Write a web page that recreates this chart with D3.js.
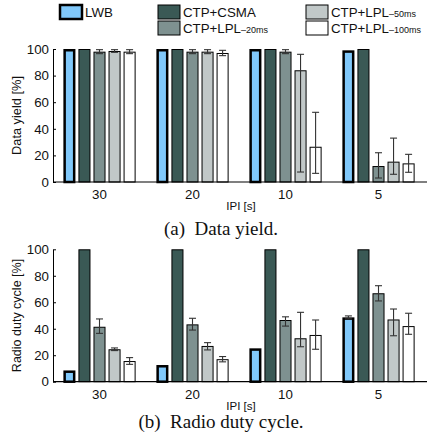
<!DOCTYPE html>
<html><head><meta charset="utf-8">
<script src="https://cdn.jsdelivr.net/npm/d3@7"></script>
<style>body{margin:0;background:#fff}svg{display:block}</style>
</head><body>
<svg id="c" width="427" height="437"></svg>
<script>
const groups = ["30","20","10","5"];
const seriesNames = ["LWB","CTP+CSMA","CTP+LPL-20ms","CTP+LPL-50ms","CTP+LPL-100ms"];
const seriesColors = ["#80c8fa","#3a5955","#7e9190","#c1c8c8","#ffffff"];
const yTicks = [0,20,40,60,80,100];

// Data yield [%]: value, error low, error high (per series, per group)
const yieldVal = [[100,100,100,99],[100,100,100,100],[98,98,98,12],[98.5,98,84,15.3],[98,97,26.5,14]];
const yieldLo  = [[null,null,null,null],[null,null,null,null],[96.5,96.5,96.5,3],[97.5,96.5,7.5,5.8],[96.5,95,6.5,7.3]];
const yieldHi  = [[null,null,null,null],[null,null,null,null],[99.5,99.5,99.5,22],[99.5,99.5,96,33],[99.5,99,52.4,20.8]];

// Radio duty cycle [%]
const dutyVal = [[8.5,12.6,25.2,48.6],[100,100,100,100],[41.5,43.3,46.6,66.8],[24.5,27,32.8,47],[15.6,17,35.3,42]];
const dutyLo  = [[null,null,null,47.5],[null,null,null,null],[36.5,39,42,61],[23.5,24,26.4,34.7],[13.1,15,24.5,35.8]];
const dutyHi  = [[null,null,null,49.7],[null,null,null,null],[47.4,47.9,49,72.5],[25.5,29.5,52.4,54.9],[18.2,19,46.6,51.7]];

const svg = d3.select("#c");
const sans = "Liberation Sans, Arial, sans-serif";

// Legend
const legendPos = [[60,5],[158,5],[306,5],[158,21],[306,21]];
const legendLabels = [["LWB",""],["CTP+CSMA",""],["CTP+LPL","–50ms"],["CTP+LPL","–20ms"],["CTP+LPL","–100ms"]];
const legendIdx = [0,1,3,2,4];
legendIdx.forEach((si,k)=>{
  const [lx,ly] = legendPos[k];
  svg.append("rect").attr("x",lx).attr("y",ly).attr("width",22).attr("height",14)
    .attr("fill",seriesColors[si]).attr("stroke","#000").attr("stroke-width",si===0?2.5:1);
  const t = svg.append("text").attr("x",lx+25).attr("y",ly+12).attr("font-family",sans).attr("font-size",13.3).attr("fill","#111");
  t.append("tspan").text(legendLabels[k][0]);
  if(legendLabels[k][1]) t.append("tspan").attr("font-size",9).text(legendLabels[k][1]);
});

function panel(top, bottom, vals, lo, hi, ylabel, ylabelSize, caption, capY) {
  const x0 = d3.scaleBand().domain(groups).range([53,425]).padding(0);
  const x1 = d3.scaleBand().domain(d3.range(5)).range([0,x0.step()]).paddingInner(0.2).paddingOuter(0.69);
  const y = d3.scaleLinear().domain([0,100]).range([bottom, top]);
  const g = svg.append("g");
  // bars
  vals.forEach((arr,si)=>{
    arr.forEach((v,gi)=>{
      const bx = x0(groups[gi]) + x1(si);
      const thick = si===0;
      const inset = thick?1.25:0.5;
      g.append("rect").attr("x",bx+inset).attr("y",y(v)+inset)
        .attr("width",x1.bandwidth()-2*inset).attr("height",Math.max(0,y(0)-y(v)-inset))
        .attr("fill",seriesColors[si]).attr("stroke","#000").attr("stroke-width",thick?2.5:1);
      if(lo[si][gi]!==null){
        const cx = bx + x1.bandwidth()/2;
        const eg = g.append("g").attr("stroke","#333").attr("stroke-width",1.1);
        eg.append("line").attr("x1",cx).attr("x2",cx).attr("y1",y(lo[si][gi])).attr("y2",y(hi[si][gi]));
        [lo[si][gi],hi[si][gi]].forEach(e=>eg.append("line").attr("x1",cx-3.5).attr("x2",cx+3.5).attr("y1",y(e)).attr("y2",y(e)));
      }
    });
  });
  // y axis with inward ticks
  const ya = d3.axisRight(y).tickValues(yTicks).tickSize(3).tickSizeOuter(0).tickFormat(d3.format("d"));
  const yg = g.append("g").attr("transform","translate(53,0)").call(ya);
  yg.select(".domain").attr("stroke","#000");
  yg.selectAll(".tick line").attr("stroke","#000");
  yg.selectAll(".tick text").attr("x",-4).attr("text-anchor","end").attr("font-family",sans).attr("font-size",13.3).attr("fill","#111");
  // x baseline
  g.append("line").attr("x1",53).attr("x2",427).attr("y1",y(0)).attr("y2",y(0)).attr("stroke","#000").attr("stroke-width",1.2);
  // x labels
  groups.forEach(gr=>{
    g.append("text").attr("x",x0(gr)+x0.bandwidth()/2).attr("y",y(0)+17).attr("text-anchor","middle")
      .attr("font-family",sans).attr("font-size",13.3).attr("fill","#111").text(gr);
  });
  g.append("text").attr("x",241).attr("y",y(0)+28).attr("text-anchor","middle")
    .attr("font-family",sans).attr("font-size",11.5).attr("fill","#111").text("IPI [s]");
  g.append("text").attr("transform",`translate(21,${(top+bottom)/2}) rotate(-90)`).attr("text-anchor","middle")
    .attr("font-family",sans).attr("font-size",ylabelSize).attr("fill","#111").text(ylabel);
  g.append("text").attr("x",221).attr("y",capY).attr("text-anchor","middle")
    .attr("font-family","Liberation Serif, Times New Roman, serif").attr("font-size",19).attr("fill","#111")
    .attr("xml:space","preserve").text(caption);
}

panel(49, 182, yieldVal, yieldLo, yieldHi, "Data yield [%]", 12.8, "(a)  Data yield.", 235);
panel(249.3, 381.7, dutyVal, dutyLo, dutyHi, "Radio duty cycle [%]", 12.5, "(b)  Radio duty cycle.", 428);
</script>
</body></html>
